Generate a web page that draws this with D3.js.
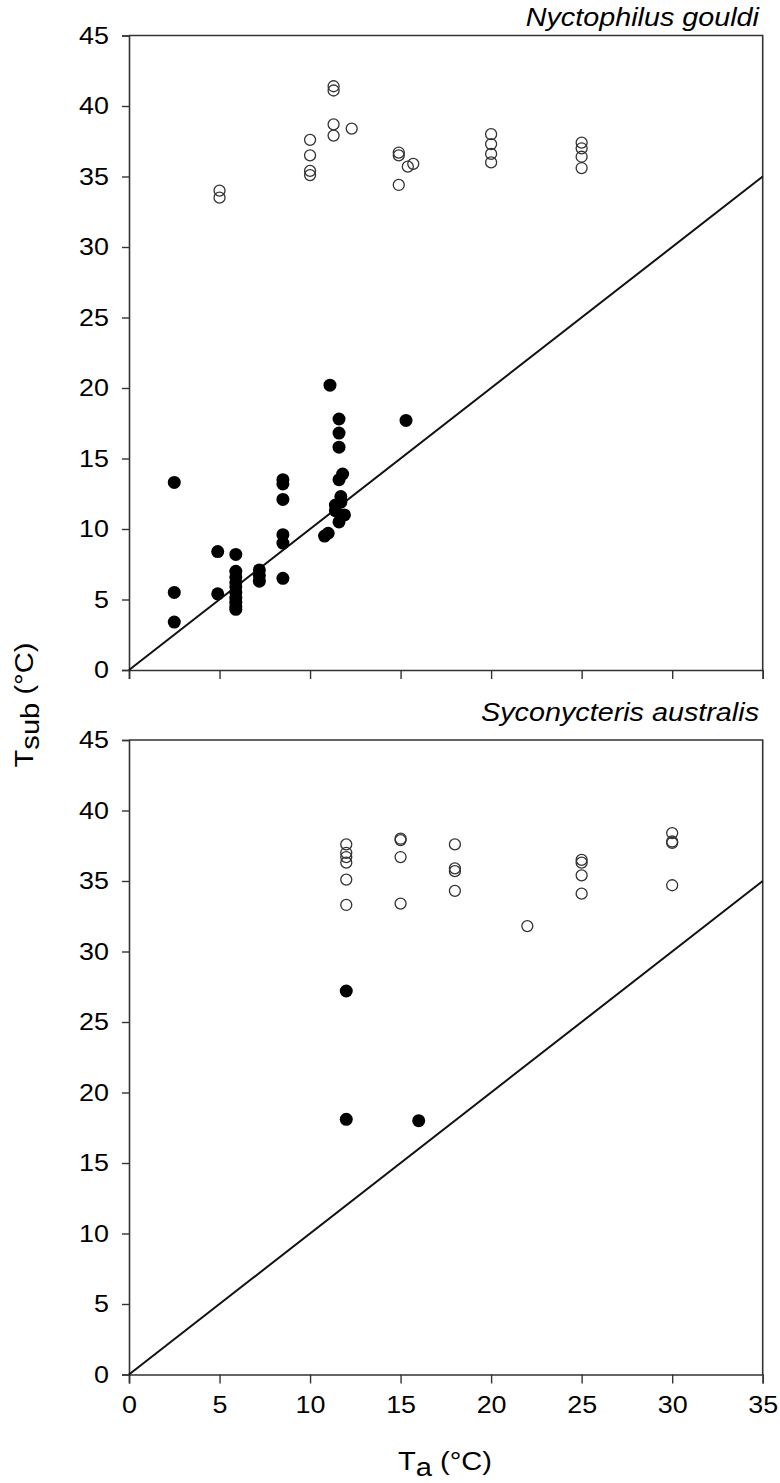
<!DOCTYPE html>
<html>
<head>
<meta charset="utf-8">
<script src="https://cdn.jsdelivr.net/npm/d3@7/dist/d3.min.js"></script>
<style>
  html, body { margin: 0; padding: 0; background: #fff; }
  svg { display: block; }
  text { font-family: "Liberation Sans", Arial, sans-serif; fill: #000; }
</style>
</head>
<body>
<svg id="chart" width="780" height="1483"></svg>
<script>
// Nyctophilus gouldi: torpid (filled) and normothermic (open) records
const ngTorpidTa   = [2.5, 2.5, 2.5, 4.9, 4.9, 5.9, 5.9, 5.9, 5.9, 5.9, 5.9, 5.9, 5.9, 5.9, 5.9,
                      7.2, 7.2, 7.2, 8.5, 8.5, 8.5, 8.5, 8.5, 8.5, 10.8, 11.0, 11.1, 11.6, 11.6,
                      11.6, 11.8, 11.6, 11.7, 11.7, 11.4, 11.4, 11.9, 11.6, 15.3];
const ngTorpidTsub = [13.3, 5.5, 3.4, 8.4, 5.4, 8.2, 7.0, 6.6, 6.2, 5.9, 5.5, 5.1, 4.8, 4.5, 4.3,
                      7.1, 6.7, 6.3, 13.5, 13.2, 12.1, 9.6, 9.0, 6.5, 9.5, 9.7, 20.2, 17.8, 16.8,
                      15.8, 13.9, 13.5, 12.3, 11.9, 11.7, 11.3, 11.0, 10.5, 17.7];
const ngNormoTa    = [5, 5, 10, 10, 10, 10, 11.3, 11.3, 11.3, 11.3, 12.3, 14.9, 14.9, 15.4, 15.7,
                      14.9, 20, 20, 20, 20, 25, 25, 25, 25];
const ngNormoTsub  = [34.0, 33.5, 37.6, 36.5, 35.4, 35.1, 41.4, 41.1, 38.7, 37.9, 38.4, 36.7, 36.5,
                      35.7, 35.9, 34.4, 38.0, 37.3, 36.6, 36.0, 37.4, 37.0, 36.4, 35.6];

// Syconycteris australis
const saTorpidTa   = [12, 12, 16];
const saTorpidTsub = [27.2, 18.1, 18.0];
const saNormoTa    = [12, 12, 12, 12, 12, 12, 15, 15, 15, 15, 18, 18, 18, 18, 22,
                      25, 25, 25, 25, 30, 30, 30, 30];
const saNormoTsub  = [37.6, 37.0, 36.7, 36.3, 35.1, 33.3, 38.0, 37.9, 36.7, 33.4, 37.6, 35.9, 35.7,
                      34.3, 31.8, 36.5, 36.3, 35.4, 34.1, 38.4, 37.8, 37.7, 34.7];

// Axis ticks and the Tsub = Ta reference line
const xTicks = [0, 5, 10, 15, 20, 25, 30, 35];
const yTicks = [0, 5, 10, 15, 20, 25, 30, 35, 40, 45];
const identityLine = [0, 35];

const svg = d3.select("#chart");
const left = 129, right = 762.7;
const x = d3.scaleLinear().domain([0, 35]).range([left, right]);

// slightly wide lettering
const stretch = 1.12;
const tickFont = 24;

const panels = [
  { title: "Nyctophilus gouldi", top: 35.5, bottom: 670, titleY: 26, labels: false,
    torTa: ngTorpidTa, torTs: ngTorpidTsub, norTa: ngNormoTa, norTs: ngNormoTsub },
  { title: "Syconycteris australis", top: 740, bottom: 1374.5, titleY: 721, labels: true,
    torTa: saTorpidTa, torTs: saTorpidTsub, norTa: saNormoTa, norTs: saNormoTsub }
];

const axisColor = "#333";

panels.forEach(p => {
  const y = d3.scaleLinear().domain([0, 45]).range([p.bottom, p.top]);
  const g = svg.append("g");

  // frame: top and right edges
  g.append("path")
    .attr("d", `M${left},${p.top}H${right}V${p.bottom}`)
    .attr("fill", "none").attr("stroke", axisColor).attr("stroke-width", 1.6);

  // y axis
  const ya = g.append("g").attr("transform", `translate(${left},0)`)
    .call(d3.axisLeft(y).tickValues(yTicks).tickSize(7).tickFormat(d3.format("d")));
  ya.select(".domain").attr("stroke", axisColor).attr("stroke-width", 1.6);
  ya.selectAll(".tick line").attr("stroke", axisColor).attr("stroke-width", 1.4);
  ya.selectAll(".tick text")
    .attr("font-size", tickFont).attr("font-family", "Liberation Sans, Arial, sans-serif")
    .attr("x", -20 / stretch).attr("transform", `scale(${stretch},1)`);

  // x axis
  const xa = g.append("g").attr("transform", `translate(0,${p.bottom})`)
    .call(d3.axisBottom(x).tickValues(xTicks).tickSize(9).tickPadding(12)
      .tickFormat(p.labels ? d3.format("d") : () => ""));
  xa.select(".domain").attr("stroke", axisColor).attr("stroke-width", 1.6);
  xa.selectAll(".tick line").attr("stroke", axisColor).attr("stroke-width", 1.4);
  xa.selectAll(".tick text")
    .attr("font-size", tickFont).attr("font-family", "Liberation Sans, Arial, sans-serif")
    .attr("transform", `scale(${stretch},1)`);

  // Tsub = Ta line
  g.append("line")
    .attr("x1", x(identityLine[0])).attr("y1", y(identityLine[0]))
    .attr("x2", x(identityLine[1])).attr("y2", y(identityLine[1]))
    .attr("stroke", "#111").attr("stroke-width", 2);

  // normothermic (open) points
  g.selectAll("circle.normo").data(p.norTa.map((t, i) => [t, p.norTs[i]]))
    .join("circle").attr("class", "normo")
    .attr("cx", d => x(d[0])).attr("cy", d => y(d[1])).attr("r", 5.5)
    .attr("fill", "none").attr("stroke", "#333").attr("stroke-width", 1.3);

  // torpid (filled) points
  g.selectAll("circle.torpid").data(p.torTa.map((t, i) => [t, p.torTs[i]]))
    .join("circle").attr("class", "torpid")
    .attr("cx", d => x(d[0])).attr("cy", d => y(d[1])).attr("r", 6.5)
    .attr("fill", "#000");

  // species title
  g.append("text")
    .attr("transform", `translate(759,${p.titleY}) scale(1.15,1)`)
    .attr("text-anchor", "end").attr("font-size", 25).attr("font-style", "italic")
    .text(p.title);
});

// axis titles
const yLab = svg.append("text")
  .attr("transform", `translate(33,705) rotate(-90) scale(${stretch},1)`)
  .attr("text-anchor", "middle").attr("font-size", 26);
yLab.append("tspan").text("T");
yLab.append("tspan").attr("dy", 6).text("sub");
yLab.append("tspan").attr("dy", -6).text(" (°C)");

const xLab = svg.append("text")
  .attr("transform", `translate(445,1470) scale(${stretch},1)`)
  .attr("text-anchor", "middle").attr("font-size", 26);
xLab.append("tspan").text("T");
xLab.append("tspan").attr("dy", 6).text("a");
xLab.append("tspan").attr("dy", -6).text(" (°C)");
</script>
</body>
</html>
